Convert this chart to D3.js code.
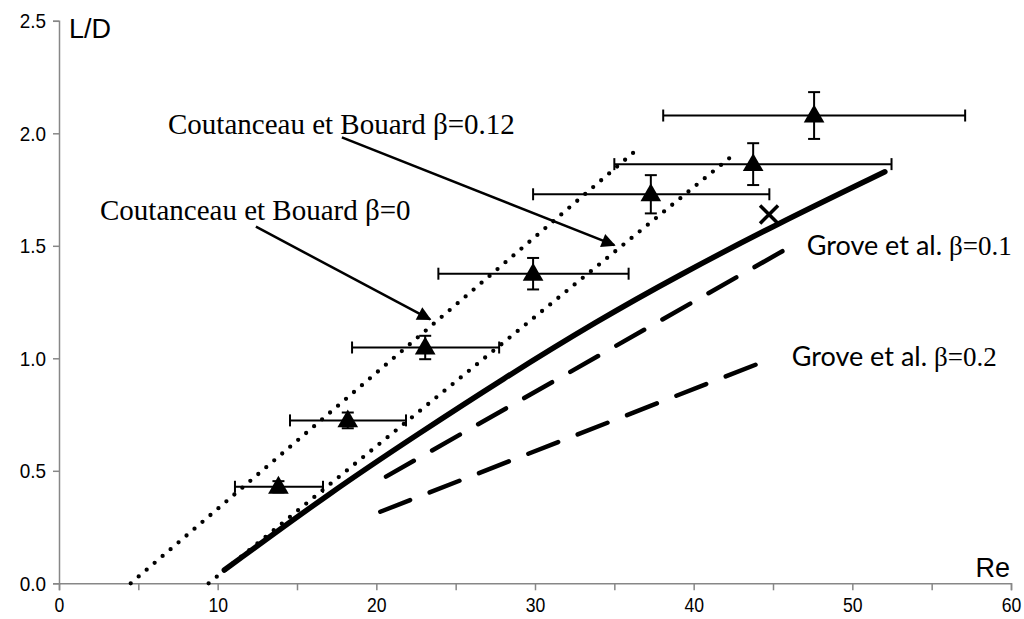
<!DOCTYPE html>
<html>
<head>
<meta charset="utf-8">
<script src="https://cdn.jsdelivr.net/npm/d3@7"></script>
<style>
  html, body { margin: 0; padding: 0; background: #fff; }
  svg { display: block; }
</style>
</head>
<body>
<svg id="chart" width="1024" height="619"></svg>
<script>
// ---------- data ----------
const xTicks = [0, 10, 20, 30, 40, 50, 60];
const xMinorTicks = [5, 15, 25, 35, 45, 55];
const yTicks = [0, 0.5, 1.0, 1.5, 2.0, 2.5];

// experimental points (triangles with error bars)
const expRe   = [13.83, 18.20, 23.08, 29.88, 37.30, 43.75, 47.59];
const expLD   = [0.429, 0.724, 1.048, 1.376, 1.729, 1.863, 2.079];
const expReLo = [11.09, 14.56, 18.47, 23.91, 29.88, 35.00, 38.08];
const expReHi = [16.64, 21.87, 27.74, 35.90, 44.77, 52.47, 57.11];
const expLDErr = [0.025, 0.035, 0.052, 0.070, 0.085, 0.093, 0.104];

// single cross marker
const crossRe = [44.75];
const crossLD = [1.639];

// Coutanceau et Bouard beta=0 (dotted)
const cb0Re = [4.52, 36.2];
const cb0LD = [0.0, 1.914];
// Coutanceau et Bouard beta=0.12 (dotted)
const cb12Re = [9.43, 42.74];
const cb12LD = [0.0, 1.918];

// solid curve
const solidRe = [10.42, 17.22, 22.66, 27.89, 33.96, 38.98, 45.25, 52.05];
const solidLD = [0.059, 0.410, 0.665, 0.905, 1.168, 1.366, 1.597, 1.829];

// Grove et al. beta=0.1 / 0.2 (dashed)
const grove1Re = [20.61, 46.09];
const grove1LD = [0.474, 1.496];
const grove2Re = [20.25, 44.94];
const grove2LD = [0.318, 1.0];

// annotation arrows (start -> tip) in data units
const arrow12 = {from: [17.83, 1.982], to: [35.0, 1.503]};
const arrow0  = {from: [12.41, 1.585], to: [23.39, 1.173]};

// ---------- chart ----------
const svg = d3.select('#chart');
const x = d3.scaleLinear().domain([0, 60]).range([59, 1011]);
const y = d3.scaleLinear().domain([0, 2.5]).range([583.3, 20.8]);
const axisColor = '#878787';
const sans = 'Liberation Sans, Arial, sans-serif';

// arrow marker
svg.append('defs').append('marker')
  .attr('id', 'ah').attr('viewBox', '0 0 10 10')
  .attr('refX', 9).attr('refY', 5)
  .attr('markerWidth', 7).attr('markerHeight', 5.6)
  .attr('markerUnits', 'strokeWidth')
  .attr('orient', 'auto')
  .append('path').attr('d', 'M0,0 L10,5 L0,10 Z').attr('fill', '#000');

// axes
const xAxis = d3.axisBottom(x).tickValues(xTicks).tickSize(7).tickFormat(d3.format('d'));
const gx = svg.append('g').attr('transform', `translate(0,${y(0)})`).call(xAxis);
gx.select('.domain').attr('stroke', axisColor).attr('stroke-width', 1.5);
gx.selectAll('.tick line').attr('stroke', axisColor).attr('stroke-width', 1.5);
gx.selectAll('.tick text').attr('fill', '#000').attr('font-family', sans)
  .attr('font-size', 20).attr('dy', '0.95em')
  .each(function () {
    const w = this.getComputedTextLength();
    d3.select(this).attr('textLength', w * 0.88).attr('lengthAdjust', 'spacingAndGlyphs');
  });
const gxm = svg.append('g').attr('transform', `translate(0,${y(0)})`)
  .call(d3.axisBottom(x).tickValues(xMinorTicks).tickSize(7).tickFormat(''));
gxm.select('.domain').remove();
gxm.selectAll('.tick line').attr('stroke', axisColor).attr('stroke-width', 1.5);

const yAxis = d3.axisLeft(y).tickValues(yTicks).tickSize(6).tickFormat(d3.format('.1f'));
const gy = svg.append('g').attr('transform', `translate(${x(0)},0)`).call(yAxis);
gy.select('.domain').attr('stroke', axisColor).attr('stroke-width', 1.5);
gy.selectAll('.tick line').attr('stroke', axisColor).attr('stroke-width', 1.5);
gy.selectAll('.tick text').attr('fill', '#000').attr('font-family', sans)
  .attr('font-size', 21).attr('x', -13)
  .each(function () {
    const w = this.getComputedTextLength();
    d3.select(this).attr('textLength', w * 0.9).attr('lengthAdjust', 'spacingAndGlyphs');
  });

// axis titles
svg.append('text').attr('x', 69).attr('y', 38)
  .attr('font-family', sans).attr('font-size', 27).text('L/D');
svg.append('text').attr('x', 1010).attr('y', 577).attr('text-anchor', 'end')
  .attr('font-family', sans).attr('font-size', 27).text('Re');

const zip = (a, b) => a.map((v, i) => [v, b[i]]);
const line = d3.line().x(d => x(d[0])).y(d => y(d[1]));
const smooth = d3.line().x(d => x(d[0])).y(d => y(d[1])).curve(d3.curveBasis);

// dotted lines
[[cb0Re, cb0LD], [cb12Re, cb12LD]].forEach(([a, b]) => {
  svg.append('path').attr('d', line(zip(a, b)))
    .attr('fill', 'none').attr('stroke', '#000').attr('stroke-width', 4.3)
    .attr('stroke-linecap', 'round').attr('stroke-dasharray', '0 10.5');
});

// solid curve
svg.append('path').attr('d', smooth(zip(solidRe, solidLD)))
  .attr('fill', 'none').attr('stroke', '#000').attr('stroke-width', 5.5)
  .attr('stroke-linecap', 'round');

// dashed lines
[[grove1Re, grove1LD], [grove2Re, grove2LD]].forEach(([a, b]) => {
  svg.append('path').attr('d', line(zip(a, b)))
    .attr('fill', 'none').attr('stroke', '#000').attr('stroke-width', 4.5)
    .attr('stroke-linecap', 'round').attr('stroke-dasharray', '32 21');
});

// error bars
const eb = svg.append('g').attr('stroke', '#000').attr('stroke-width', 2).attr('fill', 'none');
const cap = 6;
expRe.forEach((re, i) => {
  const cy = y(expLD[i]);
  const x0 = x(expReLo[i]), x1 = x(expReHi[i]);
  eb.append('line').attr('x1', x0).attr('x2', x1).attr('y1', cy).attr('y2', cy);
  eb.append('line').attr('x1', x0).attr('x2', x0).attr('y1', cy - cap).attr('y2', cy + cap);
  eb.append('line').attr('x1', x1).attr('x2', x1).attr('y1', cy - cap).attr('y2', cy + cap);
  const cx = x(re);
  const y0 = y(expLD[i] + expLDErr[i]), y1 = y(expLD[i] - expLDErr[i]);
  eb.append('line').attr('x1', cx).attr('x2', cx).attr('y1', y0).attr('y2', y1);
  eb.append('line').attr('x1', cx - cap).attr('x2', cx + cap).attr('y1', y0).attr('y2', y0);
  eb.append('line').attr('x1', cx - cap).attr('x2', cx + cap).attr('y1', y1).attr('y2', y1);
});

// triangles
const tri = d3.symbol().type(d3.symbolTriangle).size(185);
svg.append('g').selectAll('path').data(zip(expRe, expLD)).join('path')
  .attr('d', tri).attr('transform', d => `translate(${x(d[0])},${y(d[1]) + 1})`)
  .attr('fill', '#000');

// cross
zip(crossRe, crossLD).forEach(d => {
  const cx = x(d[0]), cy = y(d[1]), r = 9;
  svg.append('path').attr('d', `M${cx - r},${cy - r}L${cx + r},${cy + r}M${cx - r},${cy + r}L${cx + r},${cy - r}`)
    .attr('stroke', '#000').attr('stroke-width', 3.5).attr('fill', 'none');
});

// annotation arrows
[arrow12, arrow0].forEach(a => {
  svg.append('line')
    .attr('x1', x(a.from[0])).attr('y1', y(a.from[1]))
    .attr('x2', x(a.to[0])).attr('y2', y(a.to[1]))
    .attr('stroke', '#000').attr('stroke-width', 2.5)
    .attr('marker-end', 'url(#ah)');
});

// annotation texts
const serif = 'Liberation Serif, Times New Roman, serif';
svg.append('text').attr('x', 168).attr('y', 133.5).attr('font-family', serif).attr('font-size', 29)
  .text('Coutanceau et Bouard β=0.12');
svg.append('text').attr('x', 100).attr('y', 220).attr('font-family', serif).attr('font-size', 29)
  .text('Coutanceau et Bouard β=0');

function groveLabel(px, py, beta) {
  const t = svg.append('text').attr('x', px).attr('y', py)
    .attr('font-family', 'Lato, Carlito, Calibri, sans-serif').attr('font-size', 27);
  t.append('tspan').text('Grove et al. ');
  t.append('tspan').attr('font-family', serif).text('β=' + beta);
}
groveLabel(806.7, 255, '0.1');
groveLabel(791.7, 365.5, '0.2');
</script>
</body>
</html>
